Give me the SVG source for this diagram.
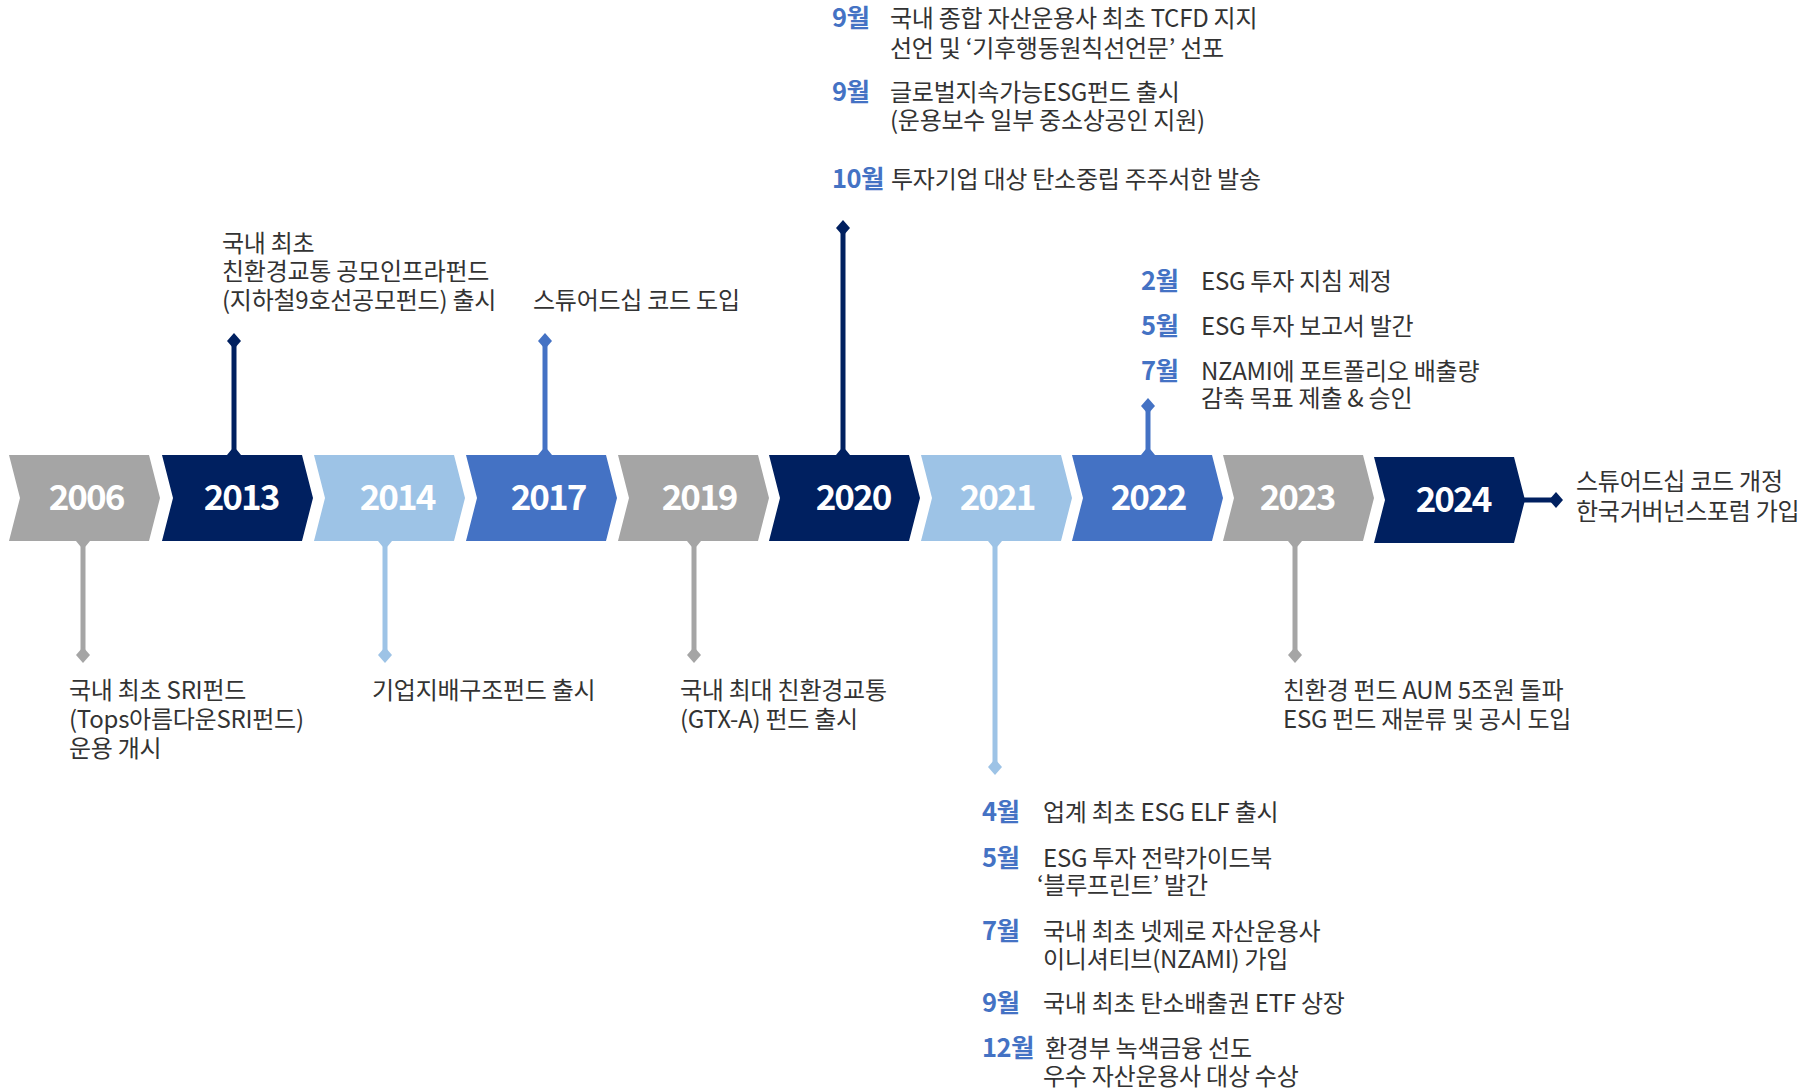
<svg xmlns="http://www.w3.org/2000/svg" width="1814" height="1091" viewBox="0 0 1814 1091">
<defs>
<style>
.t{font-family:"Noto Sans CJK KR","Noto Sans",sans-serif;font-size:24px;fill:#333333;letter-spacing:-0.25px}
.m{font-family:"Noto Sans CJK KR","Noto Sans",sans-serif;font-size:25.5px;font-weight:700;fill:#4472c4;letter-spacing:-0.6px}
.y{font-family:"Noto Sans CJK KR","Noto Sans",sans-serif;font-size:35px;font-weight:700;fill:#ffffff;letter-spacing:-2px;text-anchor:middle}
.gray{fill:#a5a5a5}
.navy{fill:#002060}
.light{fill:#9dc3e6}
.mid{fill:#4472c4}
.sg{stroke:#a5a5a5}
.sn{stroke:#002060}
.sl{stroke:#9dc3e6}
.sm{stroke:#4472c4}
.stem{stroke-width:5;fill:none}
</style>
</defs>
<rect width="1814" height="1091" fill="#ffffff"/>
<g id="connectors">
<g class="stem">
<line class="sg" x1="83" y1="541" x2="83" y2="655"/>
<line class="sn" x1="234" y1="455" x2="234" y2="341"/>
<line class="sl" x1="385" y1="541" x2="385" y2="655"/>
<line class="sm" x1="545" y1="455" x2="545" y2="341"/>
<line class="sg" x1="694" y1="541" x2="694" y2="655"/>
<line class="sn" x1="843" y1="455" x2="843" y2="228"/>
<line class="sl" x1="995" y1="541" x2="995" y2="767"/>
<line class="sm" x1="1148" y1="455" x2="1148" y2="406"/>
<line class="sg" x1="1295" y1="541" x2="1295" y2="655"/>
<line class="sn" x1="1520" y1="500" x2="1556" y2="500"/>
</g>
<path class="gray" d="M76,541h14l-4.5,5.5h-5z M76,655l7,-8l7,8l-7,8z"/>
<path class="navy" d="M227,455h14l-4.5,-5.5h-5z M227,341l7,-8l7,8l-7,8z"/>
<path class="light" d="M378,541h14l-4.5,5.5h-5z M378,655l7,-8l7,8l-7,8z"/>
<path class="mid" d="M538,455h14l-4.5,-5.5h-5z M538,341l7,-8l7,8l-7,8z"/>
<path class="gray" d="M687,541h14l-4.5,5.5h-5z M687,655l7,-8l7,8l-7,8z"/>
<path class="navy" d="M836,455h14l-4.5,-5.5h-5z M836,228l7,-8l7,8l-7,8z"/>
<path class="light" d="M988,541h14l-4.5,5.5h-5z M988,767l7,-8l7,8l-7,8z"/>
<path class="mid" d="M1141,455h14l-4.5,-5.5h-5z M1141,406l7,-8l7,8l-7,8z"/>
<path class="gray" d="M1288,541h14l-4.5,5.5h-5z M1288,655l7,-8l7,8l-7,8z"/>
<path class="navy" d="M1549,500l7,-8l7,8l-7,8z"/>
</g>
<g id="n2006"><polygon class="gray" points="9,455 149,455 160,498 149,541 9,541 20,498"/><text class="y" x="86" y="510">2006</text></g>
<g id="n2013"><polygon class="navy" points="162,455 302,455 313,498 302,541 162,541 173,498"/><text class="y" x="241" y="510">2013</text></g>
<g id="n2014"><polygon class="light" points="314,455 454,455 465,498 454,541 314,541 325,498"/><text class="y" x="397" y="510">2014</text></g>
<g id="n2017"><polygon class="mid" points="466,455 606,455 617,498 606,541 466,541 477,498"/><text class="y" x="548" y="510">2017</text></g>
<g id="n2019"><polygon class="gray" points="618,455 758,455 769,498 758,541 618,541 629,498"/><text class="y" x="699" y="510">2019</text></g>
<g id="n2020"><polygon class="navy" points="769,455 909,455 920,498 909,541 769,541 780,498"/><text class="y" x="853" y="510">2020</text></g>
<g id="n2021"><polygon class="light" points="921,455 1061,455 1072,498 1061,541 921,541 932,498"/><text class="y" x="997" y="510">2021</text></g>
<g id="n2022"><polygon class="mid" points="1072,455 1212,455 1223,498 1212,541 1072,541 1083,498"/><text class="y" x="1148" y="510">2022</text></g>
<g id="n2023"><polygon class="gray" points="1223,455 1363,455 1374,498 1363,541 1223,541 1234,498"/><text class="y" x="1297" y="510">2023</text></g>
<g id="n2024"><polygon class="navy" points="1374,457 1514,457 1525,500 1514,543 1374,543 1385,500"/><text class="y" x="1453" y="512">2024</text></g>

<g id="e2020">
<text class="m" x="832" y="27">9월</text><text class="t" x="890" y="27">국내 종합 자산운용사 최초 TCFD 지지</text>
<text class="t" x="890" y="57">선언 및 ‘기후행동원칙선언문’ 선포</text>
<text class="m" x="832" y="101">9월</text><text class="t" x="890" y="101">글로벌지속가능ESG펀드 출시</text>
<text class="t" x="890" y="129">(운용보수 일부 중소상공인 지원)</text>
<text class="m" x="832" y="188">10월</text><text class="t" x="891" y="188">투자기업 대상 탄소중립 주주서한 발송</text>
</g>
<g id="e2013">
<text class="t" x="222" y="252">국내 최초</text>
<text class="t" x="222" y="280">친환경교통 공모인프라펀드</text>
<text class="t" x="222" y="309">(지하철9호선공모펀드) 출시</text>
</g>
<g id="e2017"><text class="t" x="533" y="309">스튜어드십 코드 도입</text></g>
<g id="e2022">
<text class="m" x="1141" y="290">2월</text><text class="t" x="1201" y="290">ESG 투자 지침 제정</text>
<text class="m" x="1141" y="335">5월</text><text class="t" x="1201" y="335">ESG 투자 보고서 발간</text>
<text class="m" x="1141" y="380">7월</text><text class="t" x="1201" y="380">NZAMI에 포트폴리오 배출량</text>
<text class="t" x="1201" y="407">감축 목표 제출 &amp; 승인</text>
</g>
<g id="e2024">
<text class="t" x="1576" y="490">스튜어드십 코드 개정</text>
<text class="t" x="1576" y="520">한국거버넌스포럼 가입</text>
</g>
<g id="e2006">
<text class="t" x="69" y="699">국내 최초 SRI펀드</text>
<text class="t" x="69" y="728">(Tops아름다운SRI펀드)</text>
<text class="t" x="69" y="757">운용 개시</text>
</g>
<g id="e2014"><text class="t" x="372" y="699">기업지배구조펀드 출시</text></g>
<g id="e2019">
<text class="t" x="680" y="699">국내 최대 친환경교통</text>
<text class="t" x="680" y="728">(GTX-A) 펀드 출시</text>
</g>
<g id="e2023">
<text class="t" x="1283" y="699">친환경 펀드 AUM 5조원 돌파</text>
<text class="t" x="1283" y="728">ESG 펀드 재분류 및 공시 도입</text>
</g>
<g id="e2021">
<text class="m" x="982" y="821">4월</text><text class="t" x="1043" y="821">업계 최초 ESG ELF 출시</text>
<text class="m" x="982" y="867">5월</text><text class="t" x="1043" y="867">ESG 투자 전략가이드북</text>
<text class="t" x="1037" y="894">‘블루프린트’ 발간</text>
<text class="m" x="982" y="940">7월</text><text class="t" x="1043" y="940">국내 최초 넷제로 자산운용사</text>
<text class="t" x="1043" y="968">이니셔티브(NZAMI) 가입</text>
<text class="m" x="982" y="1012">9월</text><text class="t" x="1043" y="1012">국내 최초 탄소배출권 ETF 상장</text>
<text class="m" x="982" y="1057">12월</text><text class="t" x="1045" y="1057">환경부 녹색금융 선도</text>
<text class="t" x="1043" y="1085">우수 자산운용사 대상 수상</text>
</g>
</svg>
